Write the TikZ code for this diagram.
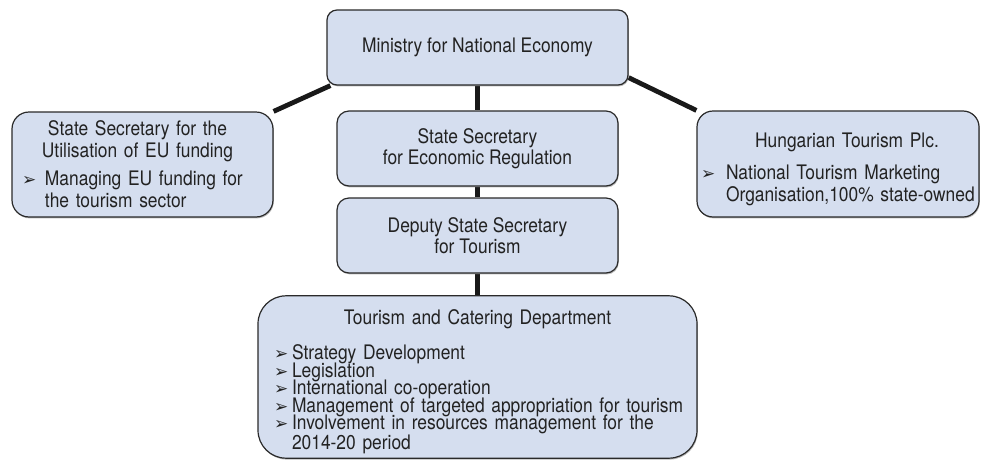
\documentclass[tikz,border=0pt]{standalone}
\usepackage{fontspec}
\setmainfont[FakeStretch=0.87]{TeX Gyre Heros}
\newfontfamily\symfont{DejaVu Sans}
\usetikzlibrary{backgrounds, shadows}
\definecolor{orgfill}{HTML}{D5DEEF}
\definecolor{orgline}{HTML}{2A2A2A}
\definecolor{orgtext}{HTML}{222222}

\newlength{\bulw}
\newcommand{\bul}[1][11.5pt]{\setlength{\bulw}{#1}\makebox[\bulw][l]{\fontsize{8.5}{8.5}\symfont ➢}}

\begin{document}
\begin{tikzpicture}[x=0.5pt, y=-0.5pt,
	orgbox/.style={draw=orgline, fill=orgfill, line width=0.6pt,
		drop shadow={shadow xshift=0.4pt, shadow yshift=-0.7pt, fill=black!55},
		font=\fontsize{10}{11}\selectfont\color{orgtext},
		inner ysep=2pt, align=center},
	link/.style={line width=2.4pt, black!90}]
		
		\useasboundingbox (0,0) rectangle (981,461);
		
		% --- Nodes ---
		% Ministry
		\node[orgbox, rounded corners=5pt, minimum width=150.5pt, minimum height=37.5pt]
		(ministry) at (477.5, 47.5) {Ministry for National Economy};
		
		% State Secretary, economic regulation
		\node[orgbox, rounded corners=6pt, minimum width=140.5pt, minimum height=37.5pt]
		(econ) at (477.5, 148.5) {State Secretary\\[-0.5pt]for Economic Regulation};
		
		% Deputy State Secretary
		\node[orgbox, rounded corners=6pt, minimum width=140.5pt, minimum height=37.5pt]
		(deputy) at (477.5, 235.5) {Deputy State Secretary\\[-0.5pt]for Tourism};
		
		% EU funding
		\node[orgbox, rounded corners=8.5pt, minimum width=130.5pt, minimum height=52.5pt,
		inner xsep=5pt, text width=120.5pt]
		(eufund) at (142.5, 164.5) {%
			\centering\hspace*{-5pt}State Secretary for the\\\hspace*{-5pt}Utilisation of EU funding\par
			\vspace{3pt}\raggedright
			\bul Managing EU funding for\\\hspace*{\bulw}the tourism sector\par};
		
		% Hungarian Tourism Plc.
		\node[orgbox, rounded corners=8pt, minimum width=141pt, minimum height=53pt,
		inner xsep=2pt, text width=137pt]
		(htplc) at (838, 164) {%
			\centering\hspace*{9pt}\rule{0pt}{12.3pt}Hungarian Tourism Plc.\par
			\vspace{5pt}\raggedright
			\bul[12.5pt]National Tourism Marketing\\\hspace*{\bulw}\mbox{Organisation,100\% state-owned}\par};
		
		% Tourism and Catering Department
		\node[orgbox, rounded corners=14pt, minimum width=219.5pt, minimum height=81pt,
		inner xsep=6pt, text width=207.5pt]
		(dept) at (477.5, 377) {%
			\centering\rule{0pt}{12.3pt}Tourism and Catering Department\par
			\vspace{8.7pt}\raggedright
			\fontsize{10}{8.8}\selectfont\setlength{\lineskiplimit}{-6pt}%
			\hspace*{2pt}\bul[9pt]Strategy Development\\
			\hspace*{2pt}\bul[9pt]Legislation\\
			\hspace*{2pt}\bul[9pt]International co-operation\\
			\hspace*{2pt}\bul[9pt]\mbox{Management of targeted appropriation for tourism}\\
			\hspace*{2pt}\bul[9pt]\mbox{Involvement in resources management for the}\\[1.2pt]
			\hspace*{11pt}2014-20 period\par};
		
		% --- Links ---
		\begin{scope}[on background layer]
			\draw[link] (ministry.south) -- (econ.north);
			\draw[link] (econ.south) -- (deputy.north);
			\draw[link] (deputy.south) -- (dept.north);
			\draw[link] ([xshift=2pt]ministry.south west) -- (eufund.north east);
			\draw[link] ([yshift=4pt]ministry.south east) -- (htplc.north west);
		\end{scope}
		
	\end{tikzpicture}
\end{document}
